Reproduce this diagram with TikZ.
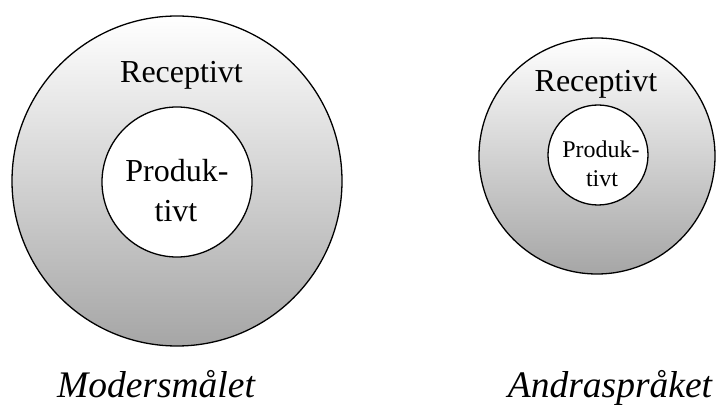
\documentclass[tikz,border=0pt]{standalone}
\usepackage{fontspec}
\setmainfont{Liberation Serif}
\begin{document}
\begin{tikzpicture}[x=1pt,y=-1pt,
  ring/.style={circle, draw=black, line width=1.3pt, inner sep=0pt, top color=white, bottom color=black!35, shading angle=0},
  core/.style={circle, draw=black, line width=1.3pt, inner sep=0pt, fill=white},
  txt/.style={anchor=base, inner sep=0pt},
  bigtxt/.style={txt, font=\fontsize{32}{38}\selectfont},
  smalltxt/.style={txt, font=\fontsize{24}{29}\selectfont},
  labeltxt/.style={txt, font=\fontsize{37.5}{44}\selectfont\itshape}]
\useasboundingbox (0,0) rectangle (718,406);
\fill[white] (0,0) rectangle (718,406);
% left diagram
\node[ring, minimum size=330pt] (outerA) at (177,181) {};
\node[core, minimum size=150pt] (innerA) at (177,182) {};
\node[bigtxt] (recA) at (181.5,83) {Receptivt};
\node[bigtxt] (prodA) at (177,182) {Produk-};
\node[bigtxt] (tivtA) at (176,222) {tivt};
\node[labeltxt] (labA) at (156,397) {Modersmålet};
% right diagram
\node[ring, minimum size=236pt] (outerB) at (597,156) {};
\node[core, minimum size=100pt] (innerB) at (598,155) {};
\node[bigtxt] (recB) at (596,92) {Receptivt};
\node[smalltxt] (prodB) at (601,158) {Produk-};
\node[smalltxt] (tivtB) at (602,187) {tivt};
\node[labeltxt] (labB) at (610,397) {Andraspråket};
\end{tikzpicture}
\end{document}
